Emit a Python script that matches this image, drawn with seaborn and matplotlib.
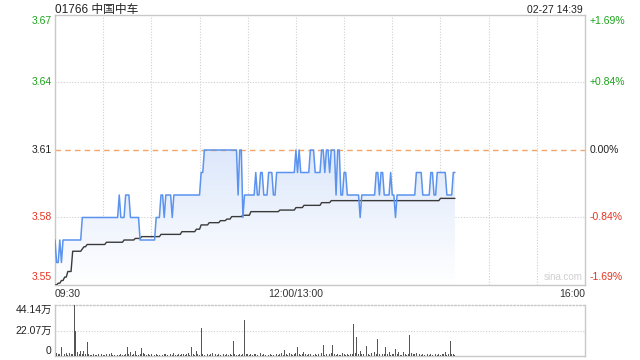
import numpy as np
import pandas as pd
import matplotlib
matplotlib.use("Agg")
import matplotlib.pyplot as plt
from matplotlib.colors import LinearSegmentedColormap
import seaborn as sns

# ---------------- data ----------------
title_text = "01766 中国中车"
date_text = "02-27 14:39"
n_minutes = 250           # 09:30 .. 14:39 (trading minutes)
session_minutes = 330     # 09:30-12:00 + 13:00-16:00

# price: minute at which price changes, and new price
price_change_min = [0, 1, 3, 4, 5, 17, 40, 41, 44, 47, 53, 63, 66, 68, 69, 73, 74, 91, 93, 114,
                    115, 117, 118, 125, 126, 128, 130, 133, 136, 138, 150, 151, 152, 153, 159,
                    162, 166, 168, 169, 171, 172, 175, 176, 178, 180, 182, 190, 191, 200, 202,
                    203, 205, 209, 210, 212, 213, 225, 229, 234, 236, 238, 244, 248]
price_change_val = [3.57, 3.56, 3.57, 3.56, 3.57, 3.58, 3.59, 3.58, 3.59, 3.58, 3.57, 3.58, 3.59,
                    3.58, 3.59, 3.58, 3.59, 3.60, 3.61, 3.59, 3.61, 3.58, 3.59, 3.60, 3.59, 3.60,
                    3.59, 3.60, 3.59, 3.60, 3.61, 3.60, 3.61, 3.60, 3.61, 3.60, 3.61, 3.60, 3.61,
                    3.60, 3.61, 3.59, 3.61, 3.59, 3.60, 3.59, 3.58, 3.59, 3.60, 3.59, 3.60, 3.59,
                    3.60, 3.59, 3.58, 3.59, 3.60, 3.59, 3.60, 3.59, 3.60, 3.59, 3.60]

# average price line: change minutes and values
avg_change_min = [0, 2, 4, 6, 8, 11, 17, 18, 20, 32, 43, 50, 54, 66, 79, 88, 91, 96, 103, 107,
                  110, 117, 122, 140, 150, 155, 166, 172, 240]
avg_change_val = [3.550, 3.5508, 3.552, 3.5535, 3.556, 3.565, 3.566, 3.567, 3.568, 3.569, 3.570,
                  3.5707, 3.5715, 3.5725, 3.5737, 3.5748, 3.5767, 3.5777, 3.5786, 3.5793, 3.5804,
                  3.581, 3.5826, 3.5833, 3.5844, 3.5854, 3.5866, 3.5875, 3.5885]

# volume per minute (万)
volume = [
    13.2, 3.0, 1.5, 2.0, 8.0, 2.5, 1.8, 2.2, 1.2, 2.6,
    1.4, 2.0, 44.14, 22.07, 3.2, 2.1, 4.0, 1.6, 4.1, 1.3,
    11.8, 1.7, 1.2, 0.9, 1.5, 1.1, 0.8, 1.3, 1.0, 1.6,
    1.2, 0.9, 1.4, 7.4, 1.8, 3.0, 1.1, 0.9, 1.3, 0.8,
    1.0, 1.5, 1.2, 0.9, 2.1, 7.4, 1.6, 3.1, 1.0, 1.4,
    4.0, 1.2, 0.8, 1.7, 6.8, 2.2, 1.4, 1.0, 1.3, 0.9,
    1.6, 1.1, 0.8, 1.9, 1.2, 1.0, 1.5, 0.7, 1.3, 2.0,
    1.1, 0.9, 1.6, 1.2, 2.4, 1.0, 0.8, 1.4, 1.1, 1.8,
    1.3, 0.9, 1.5, 2.6, 1.2, 8.0, 1.7, 1.0, 4.0, 1.4,
    1.2, 24.0, 1.8, 1.1, 2.2, 1.3, 0.9, 1.6, 2.5, 1.0,
    1.4, 0.8, 2.0, 1.2, 5.3, 1.5, 1.0, 1.3, 0.9, 1.7,
    1.1, 13.2, 1.4, 0.9, 1.2, 1.6, 1.0, 1.3, 30.9, 2.0,
    1.5, 1.2, 2.1, 1.0, 1.4, 1.7, 0.9, 1.3, 2.3, 1.1,
    1.6, 1.0, 1.4, 0.8, 1.9, 1.2, 1.0, 2.6, 1.3, 1.1,
    1.5, 2.8, 1.2, 5.3, 1.6, 1.0, 2.2, 1.4, 1.2, 1.8,
    2.4, 8.0, 1.5, 1.1, 2.0, 3.5, 1.3, 1.0, 1.6, 2.1,
    4.0, 1.2, 1.5, 0.9, 1.8, 1.3, 2.4, 9.7, 1.1, 1.4,
    1.0, 1.6, 2.2, 9.4, 1.3, 1.0, 1.7, 1.2, 0.9, 3.0,
    1.5, 1.1, 1.4, 0.9, 1.8, 1.3, 27.4, 2.5, 16.8, 1.6,
    4.4, 1.3, 2.0, 1.2, 8.8, 1.5, 1.0, 2.3, 1.4, 3.5,
    1.6, 14.7, 1.8, 11.5, 2.0, 1.3, 8.2, 1.5, 3.5, 1.2,
    1.9, 1.4, 5.9, 1.6, 3.5, 1.2, 1.0, 3.5, 1.5, 1.1,
    2.0, 18.5, 2.6, 1.8, 1.3, 2.2, 1.0, 1.5, 1.2, 1.7,
    1.1, 1.4, 2.0, 1.2, 1.6, 0.9, 1.3, 1.8, 1.0, 1.5,
    1.2, 1.9, 1.4, 3.5, 1.1, 1.6, 13.2, 1.3, 2.0, 0.8,
]

left_ticks = [3.67, 3.64, 3.61, 3.58, 3.55]
left_labels = ["3.67", "3.64", "3.61", "3.58", "3.55"]
right_labels = ["+1.69%", "+0.84%", "0.00%", "-0.84%", "-1.69%"]
tick_colors = ["#1aa31a", "#1aa31a", "#222222", "#e8321e", "#e8321e"]
x_labels = ["09:30", "12:00/13:00", "16:00"]
x_label_pos = [0, 150, 330]
vol_ticks = [44.14, 22.07, 0]
vol_labels = ["44.14万", "22.07万", "0"]
prev_close = 3.61


def expand(mins, vals, n):
    out = np.empty(n)
    for i, (m, v) in enumerate(zip(mins, vals)):
        end = mins[i + 1] if i + 1 < len(mins) else n
        out[m:end] = v
    return out


minutes = np.arange(n_minutes)
df = pd.DataFrame({
    "minute": minutes,
    "price": expand(price_change_min, price_change_val, n_minutes),
    "avg": expand(avg_change_min, avg_change_val, n_minutes),
    "volume": volume,
})

# ---------------- style ----------------
sns.set_theme(style="white")
plt.rcParams["font.family"] = ["Liberation Sans", "Noto Sans CJK SC", "DejaVu Sans"]

fig = plt.figure(figsize=(6.4, 3.6), dpi=100)
ax = fig.add_axes([55 / 640, 1 - 285 / 360, 530 / 640, 270 / 360])
axv = fig.add_axes([55 / 640, 1 - 356 / 360, 530 / 640, 51 / 360])

ymin, ymax = 3.55, 3.67

# gradient fill under price line
poly = ax.fill_between(df["minute"], df["price"], ymin, color="none", lw=0)
cmap = LinearSegmentedColormap.from_list("fade", ["#ffffff", "#dde8fb"])
grad = np.linspace(0, 1, 256).reshape(-1, 1)
img = ax.imshow(grad, extent=[0, session_minutes, ymin, 3.61], origin="lower",
                aspect="auto", cmap=cmap, zorder=1)
img.set_clip_path(poly.get_paths()[0], transform=ax.transData)

# grid lines
for m in range(30, session_minutes, 30):
    ax.axvline(m, color="#cfcfcf", lw=0.8, ls=(0, (1, 1.5)), zorder=0.5)
for yv in [3.64, 3.58]:
    ax.axhline(yv, color="#cfcfcf", lw=0.8, ls=(0, (1, 1.5)), zorder=0.5)
ax.axhline(prev_close, color="#f4a468", lw=1.0, ls=(0, (4, 3)), zorder=2)

sns.lineplot(data=df, x="minute", y="avg", ax=ax, color="#3a3a3a", lw=1.0, zorder=3)
sns.lineplot(data=df, x="minute", y="price", ax=ax, color="#5b93ee", lw=1.1, zorder=4)

ax.set_xlim(0, session_minutes)
ax.set_ylim(ymin, ymax)
ax.set_xticks([])
ax.set_yticks([])
ax.set_xlabel("")
ax.set_ylabel("")
for side, sp in ax.spines.items():
    sp.set_visible(True)
    sp.set_color("#c8c8c8")
    sp.set_linewidth(1.0)

# left / right labels
vas = ["top", "center", "center", "center", "bottom"]
for yv, lab, rlab, c, va in zip(left_ticks, left_labels, right_labels, tick_colors, vas):
    yy = yv + (-0.0005 if va == "top" else (0.0012 if va == "bottom" else 0))
    ax.text(-0.006, yy, lab, transform=ax.get_yaxis_transform(), ha="right", va=va,
            fontsize=7.5, color=c)
    ax.text(1.009, yy, rlab, transform=ax.get_yaxis_transform(), ha="left", va=va,
            fontsize=7.5, color=c)

# x labels
has = ["left", "center", "right"]
for xp, lab, ha in zip(x_label_pos, x_labels, has):
    ax.text(xp, -0.015, lab, transform=ax.get_xaxis_transform(), ha=ha, va="top",
            fontsize=7.5, color="#333333")

ax.text(0.995, 0.012, "sina.com", transform=ax.transAxes, ha="right", va="bottom",
        fontsize=7, color="#d0d0d0")

# titles
fig.text(55 / 640, 1 - 4 / 360, title_text, ha="left", va="top", fontsize=8.5, color="#222222")
fig.text(583 / 640, 1 - 5 / 360, date_text, ha="right", va="top", fontsize=7.5, color="#222222")

# volume panel
axv.bar(df["minute"], df["volume"], width=0.55, color="#555555", lw=0, zorder=3)
axv.set_xlim(0, session_minutes)
axv.set_ylim(0, 44.14)
axv.set_xticks([])
axv.set_yticks([])
axv.axhline(22.07, color="#cfcfcf", lw=0.8, ls=(0, (1, 1.5)), zorder=1)
for side, sp in axv.spines.items():
    sp.set_color("#c8c8c8")
    sp.set_linewidth(1.0)
axv.spines["top"].set_linestyle((0, (1, 1.5)))
vvas = ["top", "center", "bottom"]
for yv, lab, va in zip(vol_ticks, vol_labels, vvas):
    axv.text(-0.006, yv, lab, transform=axv.get_yaxis_transform(), ha="right", va=va,
             fontsize=7.5, color="#222222")

fig.savefig("out.png", dpi=100)
